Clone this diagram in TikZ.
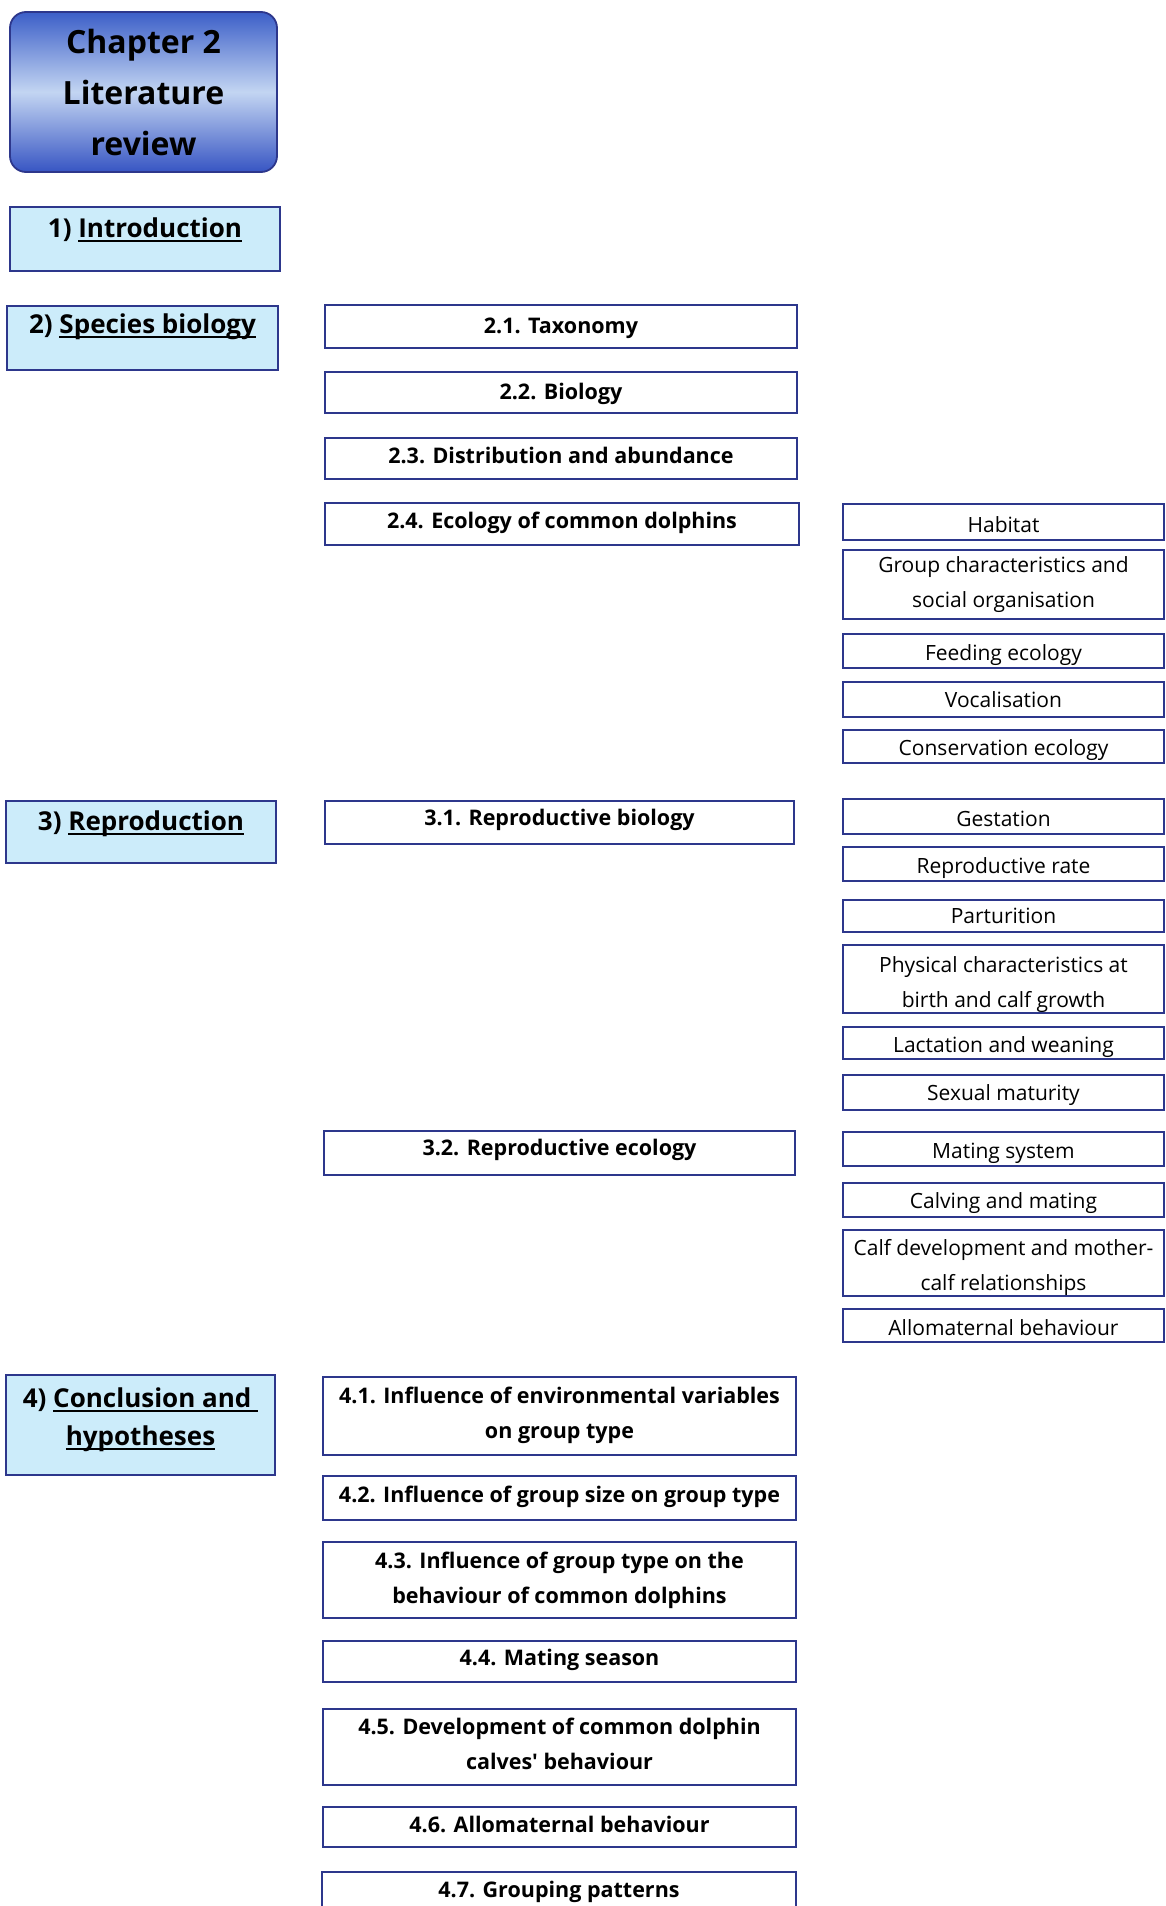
\documentclass[tikz,border=0pt]{standalone}
\usepackage{fontspec}
\setmainfont{Open Sans}
\definecolor{bordc}{RGB}{45,55,140}
\definecolor{headfill}{RGB}{204,236,250}
\definecolor{chaptop}{RGB}{60,95,200}
\definecolor{chapmid}{RGB}{195,213,242}
\definecolor{chapbot}{RGB}{55,85,195}
\newcommand{\fchap}{\fontsize{32}{51}\selectfont\bfseries}
\newcommand{\fhead}{\fontsize{26}{38}\selectfont\bfseries}
\newcommand{\fsub}{\fontsize{21.5}{35}\selectfont\bfseries}
\newcommand{\fitem}{\fontsize{21}{35}\selectfont}
% box content: width, height, first baseline offset, text
\newcommand{\bx}[4]{\parbox[c][#2pt][t]{#1pt}{\centering\rule{0pt}{#3pt}#4}}
\newcommand{\myul}[1]{\leavevmode\setbox0=\hbox{#1}\rlap{\rule[-5pt]{\wd0}{1.8pt}}\box0}
\tikzset{
  basebox/.style={inner sep=0pt, outer sep=0pt, anchor=north west, line width=1.8pt, draw=bordc},
  headbox/.style={basebox, fill=headfill, font=\fhead},
  subbox/.style={basebox, fill=white, font=\fsub},
  itembox/.style={basebox, fill=white, font=\fitem},
  chapbox/.style={basebox, rounded corners=16pt, top color=chaptop, bottom color=chapbot, middle color=chapmid, font=\fchap}
}
\begin{document}
\begin{tikzpicture}[x=1pt,y=-1pt]
\fill[white] (0,0) rectangle (1165,1906);
\useasboundingbox (0,0) rectangle (1165,1906);

% column 1
\node[chapbox] (chap) at (10,12) {\bx{267}{160}{41}{Chapter 2\\Literature\\review}};
\node[headbox] (intro) at (10,207) {\bx{270}{64}{30}{1) \myul{Introduction}}};
\node[headbox] (spec) at (7,306) {\bx{271}{64}{27}{2) \myul{Species biology}}};
\node[headbox] (repr) at (6,801) {\bx{270}{62}{29}{3) \myul{Reproduction}}};
\node[headbox] (conc) at (6,1375) {\bx{269}{100}{32}{4) \myul{Conclusion and\ }\\\myul{hypotheses}}};

% column 2
\node[subbox] (s21) at (325,305) {\bx{472}{43}{28}{2.1. Taxonomy}};
\node[subbox] (s22) at (325,372) {\bx{472}{41}{27}{2.2. Biology}};
\node[subbox] (s23) at (325,438) {\bx{472}{41}{25}{2.3. Distribution and abundance}};
\node[subbox] (s24) at (325,503) {\bx{474}{42}{25}{2.4. Ecology of common dolphins}};
\node[subbox] (s31) at (325,801) {\bx{469}{43}{24}{3.1. Reproductive biology}};
\node[subbox] (s32) at (324,1131) {\bx{471}{44}{24}{3.2. Reproductive ecology}};
\node[subbox] (s41) at (323,1377) {\bx{473}{78}{26}{4.1. Influence of environmental variables\\on group type}};
\node[subbox] (s42) at (323,1476) {\bx{473}{44}{26}{4.2. Influence of group size on group type}};
\node[subbox] (s43) at (323,1542) {\bx{473}{76}{26}{4.3. Influence of group type on the\\behaviour of common dolphins}};
\node[subbox] (s44) at (323,1641) {\bx{473}{41}{24}{4.4. Mating season}};
\node[subbox] (s45) at (323,1709) {\bx{473}{76}{25}{4.5. Development of common dolphin\\calves\textquotesingle{} behaviour}};
\node[subbox] (s46) at (323,1807) {\bx{473}{40}{25}{4.6. Allomaternal behaviour}};
\node[subbox] (s47) at (322,1872) {\bx{474}{50}{25}{4.7. Grouping patterns}};

% column 3
\node[itembox] (hab) at (843,504) {\bx{321}{36}{28}{Habitat}};
\node[itembox] (grp) at (843,550) {\bx{321}{69}{22}{Group characteristics and\\social organisation}};
\node[itembox] (feed) at (843,634) {\bx{321}{34}{26}{Feeding ecology}};
\node[itembox] (voc) at (843,682) {\bx{321}{35}{25}{Vocalisation}};
\node[itembox] (cons) at (843,730) {\bx{321}{33}{25}{Conservation ecology}};
\node[itembox] (gest) at (843,799) {\bx{321}{35}{27}{Gestation}};
\node[itembox] (rrate) at (843,847) {\bx{321}{34}{26}{Reproductive rate}};
\node[itembox] (part) at (843,900) {\bx{321}{32}{23}{Parturition}};
\node[itembox] (phys) at (843,945) {\bx{321}{68}{27}{Physical characteristics at\\birth and calf growth}};
\node[itembox] (lact) at (843,1027) {\bx{321}{32}{25}{Lactation and weaning}};
\node[itembox] (sexm) at (843,1075) {\bx{321}{35}{25}{Sexual maturity}};
\node[itembox] (mate) at (843,1132) {\bx{321}{34}{26}{Mating system}};
\node[itembox] (calv) at (843,1183) {\bx{321}{34}{25}{Calving and mating}};
\node[itembox] (calf) at (843,1230) {\bx{321}{66}{25}{Calf development and mother-\\calf relationships}};
\node[itembox] (allo) at (843,1309) {\bx{321}{33}{26}{Allomaternal behaviour}};
\end{tikzpicture}
\end{document}
